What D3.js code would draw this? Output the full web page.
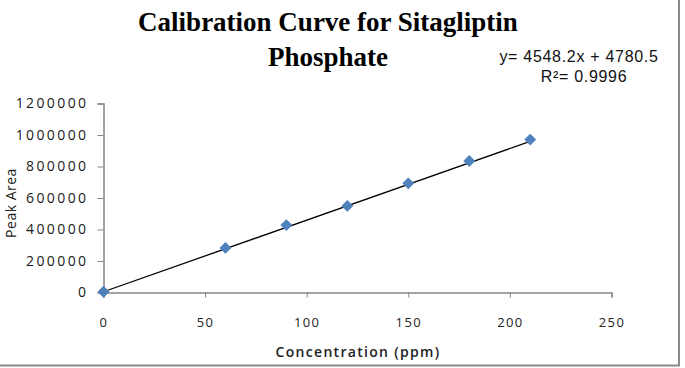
<!DOCTYPE html>
<html><head><meta charset="utf-8">
<script src="https://cdn.jsdelivr.net/npm/d3@7"></script>
<style>body{margin:0;background:#fff}svg{display:block}</style>
</head><body>
<svg id="c" width="685" height="368"></svg>
<script>
const concentration = [0, 60, 90, 120, 150, 180, 210];
const peakArea = [5000, 283000, 428000, 550000, 693000, 835000, 971000];
const xTicks = [0, 50, 100, 150, 200, 250];
const yTicks = [0, 200000, 400000, 600000, 800000, 1000000, 1200000];
const slope = 4548.2, intercept = 4780.5;
const titleLines = ["Calibration Curve for Sitagliptin", "Phosphate"];
const eqLines = ["y= 4548.2x + 4780.5", "R\u00b2= 0.9996"];

const svg = d3.select("#c");
// chart frame (right and bottom edges visible)
svg.append("path").attr("d","M679,0V365.5H0").attr("fill","none").attr("stroke","#8a8a8a").attr("stroke-width",2);

const x = d3.scaleLinear().domain([0,250]).range([103.5,611.5]);
const y = d3.scaleLinear().domain([0,1200000]).range([292.5,103.5]);

const gx = svg.append("g").attr("transform","translate(0,292.5)")
  .call(d3.axisBottom(x).tickValues(xTicks).tickSize(5).tickPadding(20).tickFormat(d3.format("d")));
const gy = svg.append("g").attr("transform","translate(103.5,0)")
  .call(d3.axisLeft(y).tickValues(yTicks).tickSize(6).tickPadding(9).tickFormat(d3.format("d")));
[gx,gy].forEach(g=>{
  g.select(".domain").attr("stroke","#868686").attr("stroke-width",1.5);
  g.selectAll(".tick line").attr("stroke","#868686");
  g.selectAll("text").attr("fill","#222").style("font-family","'Open Sans',sans-serif")
   .style("font-size","13px").style("letter-spacing","1.4px");
});
gy.selectAll("text").style("font-size","14px").style("letter-spacing","2.4px").attr("fill","#1a1a1a");

// trendline
svg.append("line")
  .attr("x1",x(0)).attr("y1",y(intercept))
  .attr("x2",x(210)).attr("y2",y(slope*210+intercept))
  .attr("stroke","#000").attr("stroke-width",1.3);

// markers
svg.append("g").selectAll("path").data(concentration).join("path")
  .attr("transform",(d,i)=>`translate(${x(d)},${y(peakArea[i])})`)
  .attr("d",d3.symbol(d3.symbolDiamond2,90))
  .attr("fill","#4F81BD");

// title
svg.append("g").selectAll("text").data(titleLines).join("text")
  .attr("x",328).attr("y",(d,i)=>31+i*35)
  .attr("text-anchor","middle")
  .style("font-family","'Liberation Serif','Times New Roman',serif")
  .style("font-weight","bold").style("font-size","27px").attr("fill","#000")
  .text(d=>d);

// equation
svg.append("text").attr("x",579).attr("y",62).attr("text-anchor","middle")
  .style("font-family","'Liberation Sans',Arial,sans-serif").style("font-size","16px")
  .style("letter-spacing","0.7px").attr("fill","#111")
  .text(eqLines[0]);
svg.append("text").attr("x",584).attr("y",82).attr("text-anchor","middle")
  .style("font-family","'Liberation Sans',Arial,sans-serif").style("font-size","16px")
  .style("letter-spacing","0.7px").attr("fill","#111")
  .text(eqLines[1]);

// axis titles
svg.append("text").attr("x",358).attr("y",357).attr("text-anchor","middle")
  .style("font-family","'Open Sans',sans-serif").style("font-weight","600").style("font-size","14px")
  .style("letter-spacing","1.3px").attr("fill","#222").text("Concentration (ppm)");
svg.append("text").attr("transform","translate(16,203) rotate(-90)").attr("text-anchor","middle")
  .style("font-family","'Open Sans',sans-serif").style("font-size","14px")
  .style("letter-spacing","0.5px").attr("fill","#222").text("Peak Area");
</script>
</body></html>
